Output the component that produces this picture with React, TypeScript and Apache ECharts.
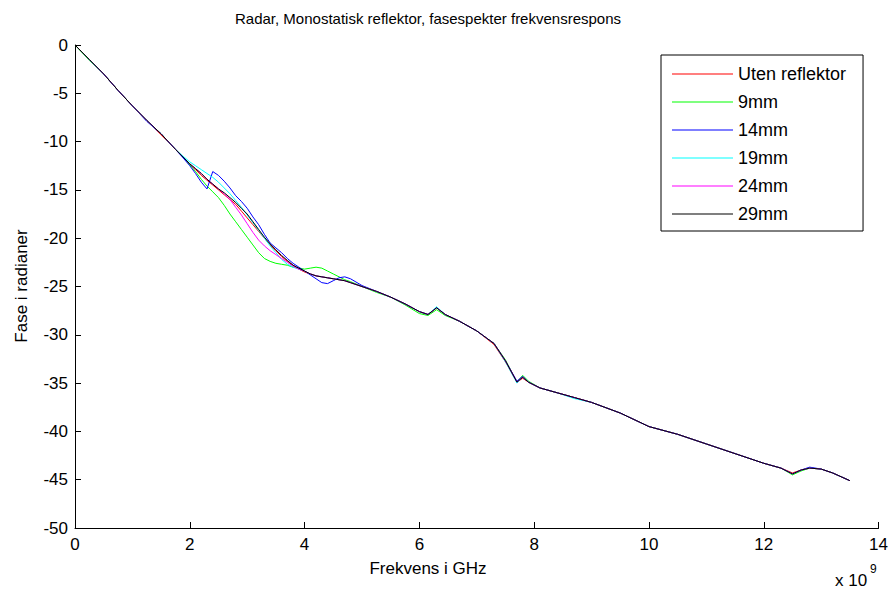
import React, { useEffect, useRef } from "react";
import * as echarts from "echarts";

const FONT = "'Liberation Sans', Arial, sans-serif";

const TITLE = "Radar, Monostatisk reflektor, fasespekter frekvensrespons";
const X_NAME = "Frekvens i GHz";
const Y_NAME = "Fase i radianer";
const SERIES_NAMES = ["Uten reflektor", "9mm", "14mm", "19mm", "24mm", "29mm"];
const COLORS = ["#ff0000", "#00ff00", "#0000ff", "#00ffff", "#ff00ff", "#000000"];

// Frequency (x 10^9 Hz)
const FREQ = [
  0, 0.25, 0.5, 0.75, 1.0, 1.25, 1.5, 1.75, 1.9, 2.0,
  2.1, 2.2, 2.3, 2.4, 2.5, 2.6, 2.7, 2.8, 2.9, 3.0,
  3.1, 3.2, 3.3, 3.4, 3.5, 3.6, 3.7, 3.8, 3.9, 4.0,
  4.1, 4.2, 4.3, 4.4, 4.5, 4.6, 4.7, 4.8, 5.0, 5.25,
  5.5, 5.75, 6.0, 6.15, 6.3, 6.45, 6.7, 7.0, 7.3, 7.5,
  7.7, 7.8, 7.9, 8.1, 8.4, 8.7, 9.0, 9.5, 10.0, 10.5,
  11.0, 11.5, 12.0, 12.3, 12.5, 12.65, 12.8, 13.0, 13.2, 13.5,
];

const UTEN = [
  0, -1.5, -3.0, -4.7, -6.3, -7.8, -9.3, -10.8, -11.7, -12.4,
  -12.9, -13.5, -14.0, -14.5, -15.0, -15.5, -16.0, -16.5, -17.2, -17.9,
  -18.6, -19.3, -20.0, -20.7, -21.3, -21.9, -22.4, -22.8, -23.2, -23.5,
  -23.7, -23.9, -24.0, -24.1, -24.2, -24.3, -24.4, -24.6, -25.0, -25.5,
  -26.1, -26.8, -27.6, -27.9, -27.2, -27.9, -28.6, -29.6, -31.0, -32.8,
  -34.9, -34.5, -34.9, -35.5, -36.0, -36.5, -37.0, -38.1, -39.5, -40.3,
  -41.3, -42.3, -43.3, -43.8, -44.3, -44.0, -43.8, -43.9, -44.3, -45.1,
];

const MM9 = [
  0, -1.6, -3.0, -4.7, -6.3, -7.8, -9.2, -10.8, -11.7, -12.4,
  -13.1, -13.9, -14.6, -15.2, -15.8, -16.6, -17.5, -18.3, -19.1, -19.9,
  -20.7, -21.5, -22.1, -22.4, -22.6, -22.7, -22.8, -23.0, -23.1, -23.2,
  -23.1, -23.0, -23.1, -23.4, -23.7, -24.0, -24.3, -24.5, -25.0, -25.6,
  -26.1, -26.9, -27.8, -28.0, -27.4, -28.0, -28.6, -29.6, -30.9, -32.6,
  -34.9, -34.2, -34.8, -35.5, -36.0, -36.5, -37.0, -38.1, -39.5, -40.3,
  -41.3, -42.3, -43.3, -43.8, -44.5, -44.1, -43.8, -43.9, -44.3, -45.1,
];

const MM14 = [
  0, -1.5, -3.0, -4.7, -6.3, -7.9, -9.2, -10.8, -11.8, -12.5,
  -13.3, -14.2, -14.9, -13.1, -13.5, -14.1, -14.8, -15.6, -16.2, -16.9,
  -17.8, -18.6, -19.6, -20.5, -21.0, -21.5, -22.1, -22.6, -23.0, -23.4,
  -23.8, -24.2, -24.6, -24.7, -24.4, -24.1, -24.0, -24.2, -24.9, -25.5,
  -26.1, -26.8, -27.6, -27.9, -27.2, -27.9, -28.6, -29.6, -30.9, -32.7,
  -34.8, -34.3, -34.9, -35.5, -36.0, -36.5, -37.0, -38.1, -39.5, -40.3,
  -41.3, -42.3, -43.3, -43.8, -44.4, -44.0, -43.7, -43.9, -44.3, -45.1,
];

const MM19 = [
  0, -1.5, -3.0, -4.7, -6.3, -7.8, -9.2, -10.8, -11.6, -12.1,
  -12.5, -12.9, -13.3, -13.7, -14.2, -14.8, -15.4, -16.1, -16.8, -17.6,
  -18.4, -19.2, -20.0, -20.8, -21.5, -22.2, -22.7, -23.0, -23.2, -23.4,
  -23.7, -23.9, -24.0, -24.1, -24.2, -24.3, -24.4, -24.6, -25.0, -25.5,
  -26.1, -26.8, -27.6, -27.9, -27.1, -27.9, -28.6, -29.6, -30.9, -32.8,
  -35.0, -34.4, -34.9, -35.5, -36.0, -36.6, -37.0, -38.1, -39.5, -40.3,
  -41.3, -42.3, -43.3, -43.8, -44.4, -44.0, -43.8, -43.9, -44.3, -45.1,
];

const MM24 = [
  0, -1.5, -3.0, -4.7, -6.3, -7.8, -9.2, -10.8, -11.7, -12.3,
  -12.8, -13.3, -13.9, -14.4, -14.9, -15.4, -16.0, -16.8, -17.6, -18.5,
  -19.4, -20.2, -20.8, -21.3, -21.7, -22.1, -22.5, -22.9, -23.2, -23.4,
  -23.7, -23.9, -24.0, -24.1, -24.2, -24.3, -24.4, -24.6, -25.0, -25.5,
  -26.1, -26.8, -27.6, -27.9, -27.2, -27.9, -28.6, -29.6, -30.9, -32.7,
  -34.9, -34.4, -34.9, -35.5, -36.0, -36.5, -37.0, -38.1, -39.5, -40.3,
  -41.3, -42.3, -43.3, -43.8, -44.4, -44.0, -43.8, -43.9, -44.3, -45.1,
];

const MM29 = [
  0, -1.5, -3.0, -4.7, -6.3, -7.8, -9.2, -10.8, -11.7, -12.3,
  -12.8, -13.3, -13.9, -14.4, -14.9, -15.3, -15.8, -16.3, -16.9, -17.5,
  -18.3, -19.1, -19.9, -20.6, -21.2, -21.8, -22.3, -22.8, -23.1, -23.4,
  -23.7, -23.9, -24.0, -24.1, -24.2, -24.3, -24.4, -24.6, -25.0, -25.5,
  -26.1, -26.8, -27.6, -27.9, -27.2, -27.9, -28.6, -29.6, -30.9, -32.7,
  -34.9, -34.4, -34.9, -35.5, -36.0, -36.5, -37.0, -38.1, -39.5, -40.3,
  -41.3, -42.3, -43.3, -43.8, -44.4, -44.0, -43.8, -43.9, -44.3, -45.1,
];

const SERIES_VALUES = [UTEN, MM9, MM14, MM19, MM24, MM29];

export default function App() {
  const ref = useRef<HTMLDivElement>(null);

  useEffect(() => {
    if (!ref.current) return;
    const chart = echarts.init(ref.current, undefined, { renderer: "svg" });
    const series = SERIES_NAMES.map((name, i) => ({
      name,
      type: "line",
      data: FREQ.map((f, j) => [f, SERIES_VALUES[i][j]]),
      symbol: "none",
      showSymbol: false,
      lineStyle: { color: COLORS[i], width: 1 },
      itemStyle: { color: COLORS[i] },
      z: 2 + i,
    }));

    const axisCommon = {
      axisLine: { show: true, onZero: false, lineStyle: { color: "#000", width: 1 } },
      axisTick: { show: true, inside: true, length: 6, lineStyle: { color: "#000" } },
      splitLine: { show: false },
    };

    chart.setOption({
      animation: false,
      backgroundColor: "#fff",
      textStyle: { fontFamily: FONT },
      grid: { left: 75, right: 12, top: 45, bottom: 64, containLabel: false },
      xAxis: {
        type: "value",
        min: 0,
        max: 14,
        interval: 2,
        ...axisCommon,
        axisLabel: { color: "#000", fontSize: 17, fontFamily: FONT, margin: 8 },
      },
      yAxis: {
        type: "value",
        min: -50,
        max: 0,
        interval: 5,
        ...axisCommon,
        axisLabel: { color: "#000", fontSize: 17, fontFamily: FONT, margin: 7 },
      },
      legend: {
        data: SERIES_NAMES,
        orient: "vertical",
        left: 661,
        top: 55,
        icon: "rect",
        itemWidth: 61,
        itemHeight: 1,
        itemGap: 10,
        padding: [10, 17, 8, 11],
        borderColor: "#000",
        borderWidth: 1,
        borderRadius: 0,
        backgroundColor: "#fff",
        selectedMode: false,
        textStyle: { color: "#000", fontSize: 18, lineHeight: 18, fontFamily: FONT },
      },
      graphic: [
        {
          type: "text",
          x: 428,
          y: 18,
          style: { text: TITLE, fill: "#000", font: `15px ${FONT}`, align: "center", verticalAlign: "middle" },
        },
        {
          type: "text",
          x: 428,
          y: 568,
          style: { text: X_NAME, fill: "#000", font: `17px ${FONT}`, align: "center", verticalAlign: "middle" },
        },
        {
          type: "text",
          x: 21,
          y: 286,
          rotation: Math.PI / 2,
          style: { text: Y_NAME, fill: "#000", font: `17px ${FONT}`, align: "center", verticalAlign: "middle" },
        },
        {
          type: "text",
          x: 835,
          y: 580,
          style: { text: "x 10", fill: "#000", font: `17px ${FONT}`, align: "left", verticalAlign: "middle" },
        },
        {
          type: "text",
          x: 870,
          y: 569,
          style: { text: "9", fill: "#000", font: `12px ${FONT}`, align: "left", verticalAlign: "middle" },
        },
      ],
      series,
    });
    return () => chart.dispose();
  }, []);

  return <div ref={ref} style={{ width: 891, height: 592, position: "absolute", left: 0, top: 0 }} />;
}
